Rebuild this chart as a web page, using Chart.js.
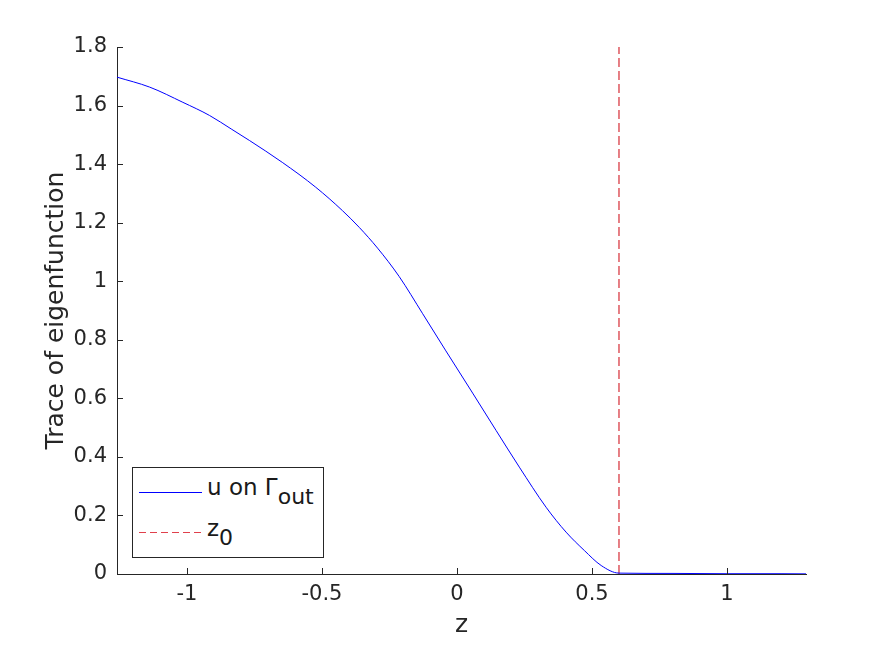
<!DOCTYPE html>
<html>
<head>
<meta charset="utf-8">
<script src="https://cdn.jsdelivr.net/npm/chart.js@4.4.1/dist/chart.umd.min.js"></script>
<style>
    body { margin: 0; background: #fff; }
    #wrap { position: relative; width: 891px; height: 645px; }
    #legend {
        position: absolute; left: 132px; top: 467px; width: 190px; height: 89px;
        border: 1px solid #262626; background: #fff;
        font-family: "DejaVu Sans", sans-serif; font-size: 23px; color: #1a1a1a;
    }
    .muestra { position: absolute; left: 6px; width: 63px; height: 1px; }
    .etiqueta { position: absolute; left: 74px; white-space: nowrap; line-height: 1; }
    .etiqueta sub { font-size: 22px; vertical-align: -9px; }
</style>
</head>
<body>
<div id="wrap">
    <canvas id="canvasGrafica" width="891" height="645"></canvas>
    <div id="legend">
        <div class="muestra" style="top:24px;background:#0000ff"></div>
        <div class="etiqueta" style="top:8px">u on Γ<sub>out</sub></div>
        <div class="muestra" style="top:64px;background:repeating-linear-gradient(to right,#e0404c 0 7px,transparent 7px 11px)"></div>
        <div class="etiqueta" style="top:49px">z<sub>0</sub></div>
    </div>
</div>
<script>
// valores
const zValores = [-1.259, -1.138, -1.015, -0.916, -0.836, -0.769, -0.647, -0.523, -0.424, -0.362,
                  -0.294, -0.214, -0.127, -0.041, 0.058, 0.145, 0.231, 0.330, 0.404, 0.472,
                  0.534, 0.6, 0.8, 1.0, 1.2, 1.2925];
const uValores = [1.697, 1.663, 1.611, 1.566, 1.520, 1.481, 1.406, 1.321, 1.241, 1.184,
                  1.113, 1.016, 0.889, 0.762, 0.618, 0.490, 0.365, 0.228, 0.143, 0.080,
                  0.029, 0.003, 0.002, 0.001, 0.001, 0.0005];
const z0X = [0.6, 0.6];
const z0Y = [0, 1.8];
const ticksX = [-1, -0.5, 0, 0.5, 1];
const ticksY = [0, 0.2, 0.4, 0.6, 0.8, 1, 1.2, 1.4, 1.6, 1.8];

const colorEje = "#262626";
const colorZ0 = "rgb(205,0,12)";
const fuente = "'DejaVu Sans', sans-serif";

// marcas de los ejes hacia dentro, como en MATLAB
const marcasInternas = {
    id: "marcasInternas",
    afterDraw(chart) {
        const { ctx, chartArea, scales } = chart;
        ctx.save();
        ctx.strokeStyle = colorEje;
        ctx.lineWidth = 1;
        ctx.beginPath();
        ticksX.forEach(v => {
            const px = Math.round(scales.x.getPixelForValue(v)) + 0.5;
            ctx.moveTo(px, chartArea.bottom);
            ctx.lineTo(px, chartArea.bottom - 6);
        });
        ticksY.forEach(v => {
            const py = Math.round(scales.y.getPixelForValue(v)) + 0.5;
            ctx.moveTo(chartArea.left, py);
            ctx.lineTo(chartArea.left + 6, py);
        });
        ctx.stroke();
        ctx.restore();
    }
};

function crearGrafica() {
    const ctx = document.getElementById("canvasGrafica").getContext("2d");
    new Chart(ctx, {
        type: "line",
        data: {
            datasets: [
                {
                    label: "u on Γout",
                    data: zValores.map((z, i) => ({ x: z, y: uValores[i] })),
                    borderColor: "#0000ff",
                    borderWidth: 1,
                    pointRadius: 0,
                    cubicInterpolationMode: "monotone",
                    fill: false
                },
                {
                    label: "z0",
                    data: z0X.map((z, i) => ({ x: z, y: z0Y[i] })),
                    borderColor: colorZ0,
                    borderWidth: 1,
                    borderDash: [9, 4],
                    pointRadius: 0,
                    fill: false
                }
            ]
        },
        options: {
            responsive: false,
            animation: false,
            layout: { padding: { left: 0, right: 85, top: 47, bottom: 0 } },
            plugins: { legend: { display: false }, tooltip: { enabled: false } },
            scales: {
                x: {
                    type: "linear",
                    min: -1.259,
                    max: 1.2925,
                    afterBuildTicks: s => { s.ticks = ticksX.map(v => ({ value: v })); },
                    afterFit: s => { s.height = 71; },
                    grid: { display: true, drawOnChartArea: false, drawTicks: false },
                    border: { display: true, color: colorEje, width: 1 },
                    ticks: { color: colorEje, padding: 8, maxRotation: 0,
                             font: { family: fuente, size: 21 }, callback: v => String(v) },
                    title: { display: true, text: "z", color: colorEje,
                             font: { family: fuente, size: 25 }, padding: { top: 0, bottom: 5 } }
                },
                y: {
                    min: 0,
                    max: 1.8,
                    afterBuildTicks: s => { s.ticks = ticksY.map(v => ({ value: v })); },
                    afterFit: s => { s.width = 117; },
                    grid: { display: true, drawOnChartArea: false, drawTicks: false },
                    border: { display: true, color: colorEje, width: 1 },
                    ticks: { color: colorEje, padding: 10,
                             font: { family: fuente, size: 21 }, callback: v => String(v) },
                    title: { display: true, text: "Trace of eigenfunction", color: colorEje,
                             font: { family: fuente, size: 25 }, padding: { top: 41, bottom: 0 } }
                }
            }
        },
        plugins: [marcasInternas]
    });
}

crearGrafica();
</script>
</body>
</html>
